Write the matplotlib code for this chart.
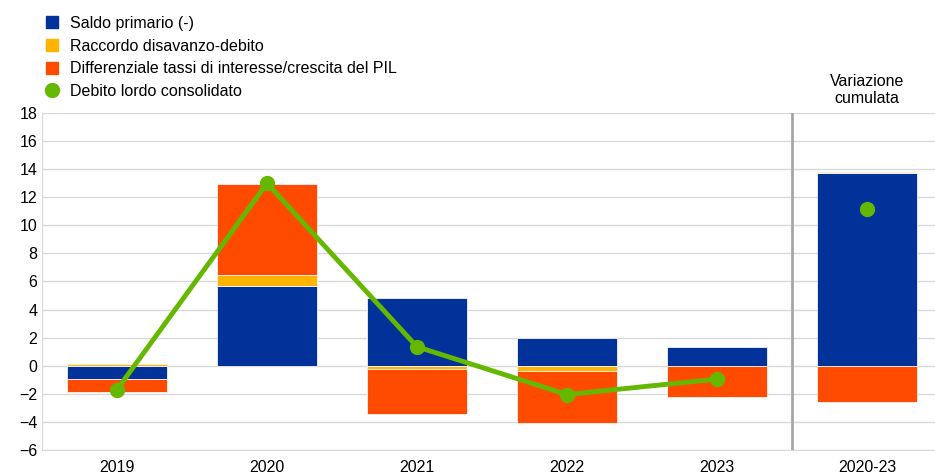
import numpy as np
import matplotlib
matplotlib.use("Agg")
import matplotlib.pyplot as plt
from matplotlib.lines import Line2D
from matplotlib.patches import Patch

plt.rcParams['font.family'] = ['Liberation Sans', 'DejaVu Sans']

categories = ['2019', '2020', '2021', '2022', '2023', '2020-23']
saldo_primario = [-0.95, 5.65, 4.8, 2.0, 1.3, 13.7]
raccordo = [0.15, 0.8, -0.25, -0.35, -0.05, 0.1]
differenziale = [-0.9, 6.5, -3.2, -3.7, -2.2, -2.6]
debito = [-1.7, 13.0, 1.35, -2.05, -0.95, 11.15]

blue = '#003299'
yellow = '#FFB400'
orange = '#FF4B00'
green = '#65B800'

fig = plt.figure(figsize=(9.35, 4.75), dpi=100)
ax = fig.add_axes([42 / 935, 1 - 450 / 475, 893 / 935, 337 / 475])

x = np.arange(len(categories))
width = 0.667

# stack positives upward and negatives downward
pos_base = np.zeros(len(x))
neg_base = np.zeros(len(x))
for vals, col in [(saldo_primario, blue), (raccordo, yellow), (differenziale, orange)]:
    vals = np.array(vals)
    base = np.where(vals >= 0, pos_base, neg_base)
    ax.bar(x, vals, width, bottom=base, color=col, edgecolor='#f4f4f4',
           linewidth=0.6, zorder=2)
    pos_base = pos_base + np.where(vals >= 0, vals, 0)
    neg_base = neg_base + np.where(vals < 0, vals, 0)

ax.plot(x[:5], debito[:5], color=green, lw=3.5, marker='o', ms=10, zorder=3)
ax.plot(x[5:], debito[5:], color=green, lw=0, marker='o', ms=10, zorder=3)

ax.axvline(4.5, color='#a6a6a6', lw=2, zorder=1)

ax.set_xlim(-0.5, -0.5 + 893 / 150)
ax.set_ylim(-6, 18)
ax.set_yticks(np.arange(-6, 19, 2))
ax.set_xticks(x)
ax.set_xticklabels(categories)
ax.tick_params(axis='both', length=0, labelsize=11.5, colors='black')
ax.tick_params(axis='x', pad=7)
ax.grid(axis='y', color='#d9d9d9', lw=1, zorder=0)
ax.set_axisbelow(True)
for s in ['top', 'right']:
    ax.spines[s].set_visible(False)
ax.spines['left'].set_color('#d9d9d9')
ax.spines['bottom'].set_color('#d9d9d9')

ax.text(5, 18.5, 'Variazione\ncumulata', ha='center', va='bottom', fontsize=11.5,
        linespacing=1.15)

handles = [Patch(color=blue, label='Saldo primario (-)'),
           Patch(color=yellow, label='Raccordo disavanzo-debito'),
           Patch(color=orange, label='Differenziale tassi di interesse/crescita del PIL'),
           Line2D([], [], color=green, marker='o', lw=0, ms=10, label='Debito lordo consolidato')]
fig.legend(handles=handles, loc='upper left', bbox_to_anchor=(0.042, 0.98), frameon=False,
           fontsize=11.5, handlelength=0.8, handleheight=0.8, handletextpad=0.75,
           labelspacing=0.48, borderaxespad=0)

fig.savefig('out.png', dpi=100)
